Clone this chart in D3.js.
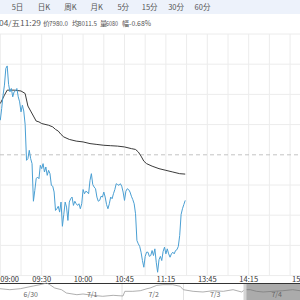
<!DOCTYPE html>
<meta charset="utf-8">
<script src="https://d3js.org/d3.v7.min.js"></script>
<style>
  body { margin: 0; background: #fff; }
  text { font-family: "Noto Sans CJK SC", "Noto Sans", sans-serif; }
</style>
<div id="my_dataviz"></div>
<script>

    // tabs along the top bar
    var tabs = ["5日", "日K", "周K", "月K", "5分", "15分", "30分", "60分"];

    // info line: label / value pairs
    var infoLabels = ["04/五11:29", "价", "均", "量", "幅"];
    var infoValues = ["", "7980.0", "8011.5", "6080", "-0.68%"];

    // previous close and half range (fraction)
    var prevClose = 8034.6;
    var halfRange = 0.018;

    // price, one value per trading minute from 09:00 to 11:29
    var prices = [
      8076, 8090, 8106, 8118, 8138, 8141, 8119, 8110, 8114, 8104,
      8110, 8111, 8114, 8104, 8098, 8086, 8094, 8087, 8071, 8028,
      8030, 8040, 8030, 8024, 7979, 7992, 8006, 8008, 8006, 8022,
      8018, 8024, 8014, 8020, 8010, 8016, 8012, 7998, 7997, 7990,
      7968, 7970, 7973, 7966, 7978, 7949, 7963, 7978, 7972, 7956,
      7978, 7982, 7984, 7974, 7979, 7976, 7974, 7976, 7970, 7976,
      7993, 7988, 7991, 7990, 7988, 8004, 8012, 7999, 7996, 7994,
      7984, 7979, 7980, 7985, 7984, 7990, 7984, 7975, 7970, 7976,
      7984, 7982, 7988, 7993, 8000, 7999, 7998, 8000, 7997, 7990,
      7980, 7991, 7994, 7993, 7990, 7985, 7981, 7976, 7964, 7932,
      7928, 7925, 7918, 7908, 7900, 7913, 7918, 7918, 7913, 7914,
      7920, 7914, 7922, 7906, 7894, 7909, 7913, 7908, 7919, 7924,
      7916, 7922, 7916, 7912, 7916, 7918, 7916, 7920, 7921, 7925,
      7938, 7963, 7970, 7975, 7980
    ];

    // average price line, read at these trading minutes
    var avgMinutes = [0, 3, 5, 10, 15, 18, 20, 22, 24, 26, 28, 30, 35, 38, 40, 42, 44, 46, 50,
      55, 60, 65, 70, 75, 80, 85, 90, 95, 98, 100, 102, 104, 106, 110, 115, 120, 125, 130, 134];
    var avgValues = [8096, 8106, 8112, 8112, 8111, 8108, 8093, 8087, 8081, 8075, 8074, 8072, 8070, 8068, 8065, 8063, 8059, 8056, 8053,
      8051, 8050, 8048, 8047, 8046, 8045.5, 8045, 8044, 8042, 8041, 8038, 8033, 8027, 8024, 8021, 8018, 8016, 8014, 8012, 8011.5];

    // x axis ticks (trading minutes) and their labels
    var tickMinutes = [0, 30, 60, 90, 120, 150, 180, 225];
    var tickLabels = ["09:00", "09:30", "10:00", "10:45", "11:15", "13:45", "14:15", "15:00"];

    // navigator: five days, a small history line
    var navDays = ["6/30", "7/1", "7/2", "7/3", "7/4"];
    var navPos = [0, 0.16, 0.33, 0.54, 0.65, 0.76, 0.81, 0.89, 1.0, 1.08, 1.25, 1.35, 1.51, 1.67, 1.84, 2.0,
      2.03, 2.16, 2.28, 2.39, 2.44, 2.55, 2.65, 2.81, 2.93, 2.98, 3.14, 3.3, 3.46, 3.63, 3.79, 3.93,
      3.98, 4.07, 4.17, 4.28, 4.44, 4.6, 4.76, 4.88];
    var navValues = [8101, 8079, 8101, 8161, 8190, 8227, 8190, 8116, 8079, 8005, 7968, 7983, 7954, 7932, 7954, 7939,
      8043, 8043, 8056, 8101, 8116, 8176, 8190, 8190, 8154, 8079, 8043, 8028, 8056, 8043, 8079, 8028,
      8079, 8079, 8043, 8028, 8043, 8056, 8079, 8056];

    var width = 300, height = 300;

    var svg = d3.select("#my_dataviz")
      .append("svg")
        .attr("width", width)
        .attr("height", height);

    // top tab bar
    svg.append("rect")
      .attr("x", 0).attr("y", 0)
      .attr("width", width).attr("height", 14)
      .attr("fill", "#edf2fb");

    var tabX = d3.scalePoint().domain(tabs).range([17.5, 202.5]);
    svg.append("g")
      .selectAll("text")
      .data(tabs)
      .enter()
      .append("text")
        .attr("x", function(d) { return tabX(d); })
        .attr("y", 10)
        .attr("text-anchor", "middle")
        .style("font-size", "7.5px")
        .style("fill", "#555")
        .text(function(d) { return d; });

    // info line, labels and values placed one after another
    var labelX = [-1, 43, 72, 100, 122];
    var valueX = [0, 49, 78, 106, 129];
    var valueW = [0, 19, 19, 12, 22];
    var info = svg.append("g");
    infoLabels.forEach(function(lab, i) {
      var t = info.append("text")
        .attr("x", labelX[i])
        .attr("y", 26)
        .style("font-size", "7px")
        .style("fill", "#555")
        .text(lab);
      if (i == 0) t.attr("textLength", 42).attr("lengthAdjust", "spacingAndGlyphs");
      if (infoValues[i]) {
        info.append("text")
          .attr("x", valueX[i])
          .attr("y", 26)
          .attr("textLength", valueW[i])
          .attr("lengthAdjust", "spacingAndGlyphs")
          .style("font-size", "7px")
          .style("fill", "#555")
          .text(infoValues[i]);
      }
    });

    // scales
    var x = d3.scaleLinear().domain([0, 225]).range([0.3, 310.8]);
    var y = d3.scaleLinear()
      .domain([prevClose * (1 - halfRange), prevClose * (1 + halfRange)])
      .range([275.6, 34]);

    // grid
    var grid = svg.append("g");
    grid.selectAll("line.v")
      .data(d3.range(0, 226, 15))
      .enter()
      .append("line")
        .attr("x1", function(d) { return x(d); })
        .attr("x2", function(d) { return x(d); })
        .attr("y1", 34).attr("y2", 276)
        .attr("stroke", "#ececec");
    var yTicks = d3.range(0, 9).map(function(i) {
      return prevClose * (1 - halfRange) + i * prevClose * halfRange / 4;
    });
    grid.selectAll("line.h")
      .data(yTicks)
      .enter()
      .append("line")
        .attr("x1", 0).attr("x2", width)
        .attr("y1", function(d) { return y(d); })
        .attr("y2", function(d) { return y(d); })
        .attr("stroke", function(d, i) { return i == 4 ? "#c4c4c4" : "#ececec"; })
        .attr("stroke-dasharray", function(d, i) { return i == 4 ? "4,3" : null; });

    // average line
    svg.append("path")
      .datum(avgMinutes)
      .attr("fill", "none")
      .attr("stroke", "#3a3a3a")
      .attr("stroke-width", 1)
      .attr("d", d3.line()
        .x(function(d) { return x(d); })
        .y(function(d, i) { return y(avgValues[i]); }));

    // price line
    svg.append("path")
      .datum(prices)
      .attr("fill", "none")
      .attr("stroke", "#4a9fd3")
      .attr("stroke-width", 1)
      .attr("d", d3.line()
        .x(function(d, i) { return x(i); })
        .y(function(d) { return y(d); }));

    // x axis labels
    svg.append("g")
      .selectAll("text")
      .data(tickMinutes)
      .enter()
      .append("text")
        .attr("x", function(d) { return x(d); })
        .attr("y", 281.5)
        .attr("text-anchor", function(d, i) {
          if (i == 0) return "start";
          if (i == tickMinutes.length - 1) return "end";
          return "middle";
        })
        .style("font-size", "7.5px")
        .style("fill", "#333")
        .text(function(d, i) { return tickLabels[i]; });

    svg.append("line")
      .attr("x1", 0).attr("x2", width)
      .attr("y1", 283.5).attr("y2", 283.5)
      .attr("stroke", "#333");

    // navigator
    var nx = d3.scaleLinear().domain([0, 5]).range([0, 307.5]);
    var ny = d3.scaleLinear().domain([7850, 8250]).range([300, 282]);

    svg.append("g")
      .selectAll("line")
      .data([2, 3])
      .enter()
      .append("line")
        .attr("x1", function(d) { return nx(d) - 1; })
        .attr("x2", function(d) { return nx(d) - 1; })
        .attr("y1", 284).attr("y2", 300)
        .attr("stroke", "#e2e2e2");

    svg.append("path")
      .datum(navValues)
      .attr("fill", "none")
      .attr("stroke", "#9a9a9a")
      .attr("stroke-width", 0.8)
      .attr("d", d3.line()
        .x(function(d, i) { return nx(navPos[i]); })
        .y(function(d) { return ny(d); }));

    svg.append("g")
      .selectAll("text")
      .data(navDays)
      .enter()
      .append("text")
        .attr("x", function(d, i) { return nx(i + 0.5); })
        .attr("y", 297)
        .attr("text-anchor", "middle")
        .style("font-size", "7px")
        .style("fill", "#666")
        .text(function(d) { return d; });

    // selected day shading and handle
    svg.append("rect")
      .attr("x", nx(4)).attr("y", 284)
      .attr("width", width - nx(4)).attr("height", 16)
      .attr("fill", "#666")
      .attr("opacity", 0.55);
    svg.append("rect")
      .attr("x", nx(4) - 2.5).attr("y", 284)
      .attr("width", 3).attr("height", 16)
      .attr("fill", "#d4d4d4");

</script>
